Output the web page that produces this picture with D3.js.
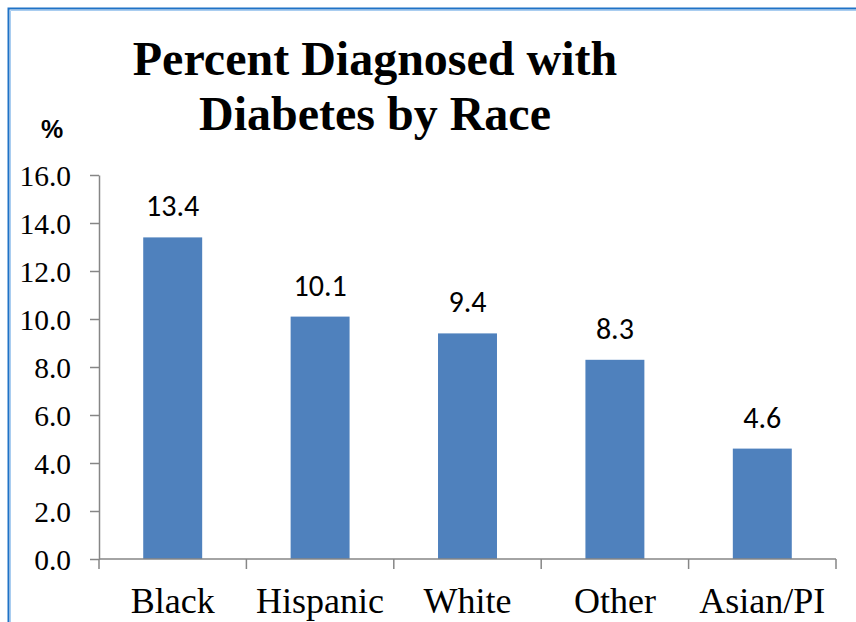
<!DOCTYPE html>
<html>
<head>
<meta charset="utf-8">
<script src="https://cdn.jsdelivr.net/npm/d3@7"></script>
<style>
  html, body { margin: 0; padding: 0; background: #ffffff; }
  svg { display: block; }
  .serif { font-family: "Times New Roman", "Liberation Serif", Tinos, "DejaVu Serif", serif; }
  .sans { font-family: Calibri, Carlito, Lato, "Open Sans", sans-serif; }
</style>
</head>
<body>
<svg id="chart" width="856" height="622"></svg>
<script>
// Percent of adults diagnosed with diabetes, by race
const categories = ["Black", "Hispanic", "White", "Other", "Asian/PI"];
const percentValues = [13.4, 10.1, 9.4, 8.3, 4.6];
const yTickValues = [0, 2, 4, 6, 8, 10, 12, 14, 16];
const titleLines = ["Percent Diagnosed with", "Diabetes by Race"];
const unitLabel = "%";

const svg = d3.select("#chart");
const W = 856, H = 622;

// Slide frame (blue rule along top and left edge)
svg.append("path")
  .attr("d", `M8.5,${H + 5} L8.5,8.5 L${W + 5},8.5`)
  .attr("fill", "none")
  .attr("stroke", "#1f72c6")
  .attr("stroke-width", 2);
svg.append("path")
  .attr("d", `M10.5,${H + 5} L10.5,10.5 L${W + 5},10.5`)
  .attr("fill", "none")
  .attr("stroke", "#a9cdf0")
  .attr("stroke-width", 1);

const plot = { left: 99, right: 836, top: 175, bottom: 559 };

const x = d3.scaleBand()
  .domain(categories)
  .range([plot.left, plot.right])
  .paddingInner(0.6)
  .paddingOuter(0.3);

const y = d3.scaleLinear()
  .domain([0, 16])
  .range([plot.bottom, plot.top]);

const axisColor = "#868686";

// Value axis
const yAxis = svg.append("g")
  .attr("transform", `translate(${plot.left},0)`)
  .call(d3.axisLeft(y).tickValues(yTickValues).tickFormat(d3.format(".1f")).tickSize(9).tickSizeOuter(0));
yAxis.attr("font-family", null).attr("font-size", null);
yAxis.select(".domain").attr("stroke", axisColor).attr("stroke-width", 1.5);
yAxis.selectAll(".tick line").attr("stroke", axisColor).attr("stroke-width", 1.5);
yAxis.selectAll(".tick text")
  .attr("class", "serif")
  .attr("x", -28)
  .attr("dy", "0.35em")
  .attr("fill", "#000")
  .style("font-size", "29.5px");

// Bars
svg.append("g")
  .selectAll("rect")
  .data(categories)
  .join("rect")
  .attr("x", (d) => x(d))
  .attr("width", x.bandwidth())
  .attr("y", (d, i) => y(percentValues[i]))
  .attr("height", (d, i) => y(0) - y(percentValues[i]))
  .attr("fill", "#4f81bd");

// Category axis: tick marks at category boundaries
const step = x.step();
const boundaries = d3.range(categories.length + 1).map((i) => plot.left + i * step);
const xAxisG = svg.append("g");
xAxisG.append("line")
  .attr("x1", plot.left).attr("x2", plot.right)
  .attr("y1", y(0)).attr("y2", y(0))
  .attr("stroke", axisColor).attr("stroke-width", 1.5);
xAxisG.selectAll("line.tick")
  .data(boundaries)
  .join("line")
  .attr("class", "tick")
  .attr("x1", (d) => d).attr("x2", (d) => d)
  .attr("y1", y(0)).attr("y2", y(0) + 10)
  .attr("stroke", axisColor).attr("stroke-width", 1.5);

// Category labels
svg.append("g")
  .selectAll("text")
  .data(categories)
  .join("text")
  .attr("class", "serif")
  .attr("x", (d) => x(d) + x.bandwidth() / 2)
  .attr("y", 613)
  .attr("text-anchor", "middle")
  .style("font-size", "36px")
  .attr("fill", "#000")
  .text((d) => d);

// Value labels above bars
svg.append("g")
  .selectAll("text")
  .data(categories)
  .join("text")
  .attr("class", "sans")
  .attr("x", (d) => x(d) + x.bandwidth() / 2)
  .attr("y", (d, i) => y(percentValues[i]) - 21)
  .attr("text-anchor", "middle")
  .style("font-size", "30px")
  .attr("fill", "#000")
  .text((d, i) => percentValues[i].toFixed(1));

// Unit label
svg.append("text")
  .attr("x", 52)
  .attr("y", 138)
  .attr("text-anchor", "middle")
  .style("font-family", "Arial, 'Liberation Sans', sans-serif")
  .style("font-weight", "bold")
  .style("font-size", "25px")
  .text(unitLabel);

// Title
svg.append("g")
  .selectAll("text")
  .data(titleLines)
  .join("text")
  .attr("class", "serif")
  .attr("x", 375)
  .attr("y", (d, i) => 75 + i * 55)
  .attr("text-anchor", "middle")
  .style("font-weight", "bold")
  .style("font-size", "48px")
  .attr("fill", "#000")
  .text((d) => d);
</script>
</body>
</html>
